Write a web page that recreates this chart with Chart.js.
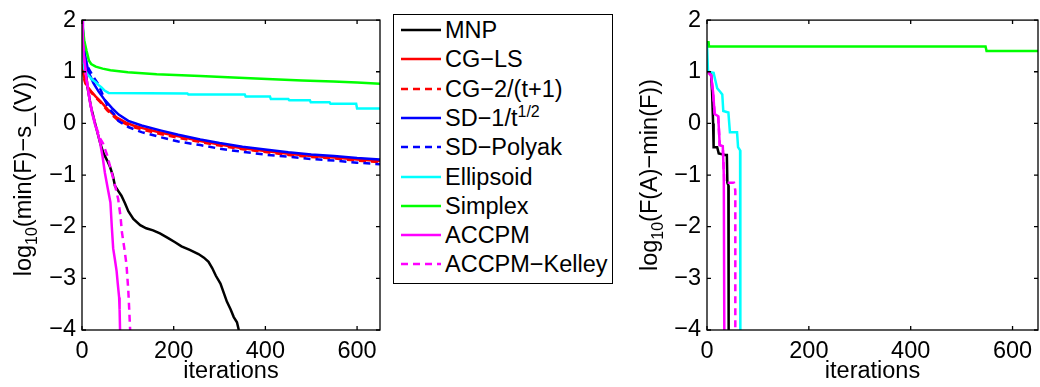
<!DOCTYPE html>
<html>
<head>
<meta charset="utf-8">
<script src="https://cdn.jsdelivr.net/npm/chart.js@4.4.1/dist/chart.umd.min.js"></script>
<style>
  html, body { margin: 0; padding: 0; background: #fff; }
  #wrap { position: relative; width: 1040px; height: 387px; overflow: hidden;
          font-family: "Liberation Sans", Arial, sans-serif; color: #000; }
  canvas { position: absolute; top: 0; }
  #left { left: 0; }
  #right { left: 625px; }
  #legend { position: absolute; left: 393px; top: 14px; width: 220px; height: 270px;
            border: 1.3px solid #000; box-sizing: border-box; background: #fff; }
  .item { position: absolute; left: 0; height: 24px; line-height: 24px; font-size: 23.5px; white-space: nowrap; }
  .item svg { position: absolute; left: 7px; top: 10px; }
  .item span { position: absolute; left: 51px; top: 0; }
  .item sup { font-size: 16px; vertical-align: 9px; line-height: 0; }
</style>
</head>
<body>
<div id="wrap">
  <canvas id="left" width="395" height="387"></canvas>
  <canvas id="right" width="415" height="387"></canvas>
  <div id="legend"></div>
</div>
<script>
// series names / styles (legend order = draw order)
const names = ['MNP', 'CG\u2212LS', 'CG\u22122/(t+1)', 'SD\u22121/t', 'SD\u2212Polyak', 'Ellipsoid', 'Simplex', 'ACCPM', 'ACCPM\u2212Kelley']
const supers = ['', '', '', '1/2', '', '', '', '', '']
const colors = ['#000000', '#ff0000', '#ff0000', '#0000ff', '#0000ff', '#00ffff', '#00ff00', '#ff00ff', '#ff00ff']
const dashed = [false, false, true, false, true, false, false, false, true]

const xTicks = [0, 200, 400, 600]
const yTicks = [-4, -3, -2, -1, 0, 1, 2]

// left panel: log10(min(F) - s_(V)) vs iterations, [iteration, value]
const leftMNP = [[0,1.9],[6,1.2],[12,0.7],[20,0.3],[30,-0.05],[40,-0.39],[47,-0.58],[55,-0.72],[61,-0.84],[67,-1.0],[72,-1.21],[80,-1.32],[86,-1.4],[94,-1.55],[101,-1.7],[112,-1.85],[127,-1.97],[140,-2.03],[155,-2.07],[170,-2.13],[188,-2.22],[203,-2.3],[217,-2.38],[235,-2.45],[254,-2.53],[266,-2.6],[276,-2.68],[284,-2.8],[292,-2.95],[302,-3.1],[310,-3.3],[316,-3.45],[324,-3.6],[331,-3.75],[338,-3.85],[342,-4.0]]
const leftCGLS = [[0,1.15],[3,0.95],[7,0.81],[13,0.7],[20,0.62],[30,0.52],[40,0.43],[55,0.28],[76,0.11],[95,0.02],[112,-0.04],[140,-0.11],[173,-0.18],[210,-0.25],[258,-0.34],[300,-0.41],[350,-0.48],[404,-0.54],[450,-0.59],[500,-0.63],[550,-0.66],[600,-0.7],[650,-0.73]]
const leftCG2 = [[0,1.1],[3,0.92],[7,0.78],[13,0.68],[20,0.6],[30,0.5],[40,0.41],[55,0.25],[76,0.08],[95,-0.01],[112,-0.07],[140,-0.14],[173,-0.21],[210,-0.28],[258,-0.36],[300,-0.43],[350,-0.5],[404,-0.56],[450,-0.61],[500,-0.65],[550,-0.68],[600,-0.72],[650,-0.75]]
const leftSD = [[0,2],[3,1.7],[7,1.3],[14,1.0],[25,0.78],[36,0.62],[50,0.45],[65,0.3],[80,0.17],[101,0.05],[130,-0.04],[173,-0.14],[210,-0.22],[258,-0.31],[300,-0.38],[350,-0.45],[404,-0.51],[450,-0.56],[500,-0.6],[550,-0.63],[600,-0.67],[650,-0.7]]
const leftPolyak = [[0,2],[3,1.6],[7,1.25],[14,1.07],[25,0.9],[36,0.75],[50,0.45],[57,0.31],[70,0.18],[79,0.05],[101,-0.07],[130,-0.17],[173,-0.27],[210,-0.35],[258,-0.42],[300,-0.49],[350,-0.55],[404,-0.61],[455,-0.65],[500,-0.69],[550,-0.72],[600,-0.76],[650,-0.79]]
const leftEllipsoid = [[0,2],[2,1.3],[5,1.05],[12,0.95],[22,0.85],[30,0.8],[35,0.75],[42,0.7],[50,0.63],[58,0.59],[230,0.58],[232,0.56],[355,0.56],[357,0.52],[410,0.52],[412,0.47],[450,0.47],[452,0.45],[497,0.45],[499,0.41],[540,0.41],[542,0.38],[598,0.38],[600,0.29],[650,0.29]]
const leftSimplex = [[0,2],[5,1.6],[10,1.4],[15,1.22],[20,1.15],[30,1.1],[45,1.06],[62,1.03],[100,0.99],[163,0.95],[258,0.92],[330,0.89],[404,0.86],[480,0.83],[548,0.81],[600,0.79],[650,0.77]]
const leftACCPM = [[0,2],[2,1.6],[4,1.3],[6.5,1.13],[10,0.85],[17,0.43],[22,0.2],[28,-0.01],[33,-0.15],[39,-0.35],[45,-0.65],[50,-0.96],[56,-1.25],[62,-1.53],[65,-2.0],[68,-2.42],[72,-2.65],[75.5,-2.86],[78,-3.1],[81,-3.37],[82,-3.6],[83,-4.0]]
const leftKelley = [[0,2],[2,1.6],[4,1.3],[6.5,1.1],[10,0.85],[17,0.45],[22,0.22],[28,0.02],[34,-0.15],[40,-0.3],[46,-0.39],[55,-0.62],[65,-0.96],[72,-1.2],[79,-1.47],[84,-1.8],[87,-2.1],[92,-2.4],[97,-2.73],[101,-3.24],[103,-3.6],[105,-4.0]]

// right panel: log10(F(A) - min(F)) vs iterations
const rightMNP = [[3,1.0],[8,0.95],[10,0.6],[12,0.0],[13,-0.46],[20,-0.46],[23,-0.58],[36,-0.61],[39,-0.61],[40,-1.15],[42,-1.2],[42.5,-4]]
const rightCGLS = []
const rightCG2 = []
const rightSD = [[0,0],[1.5,0]]
const rightPolyak = []
const rightEllipsoid = [[0,1.55],[2,1.0],[13,0.98],[16,0.85],[20,0.68],[27,0.6],[30,0.56],[32,0.24],[42,0.21],[45,-0.17],[59,-0.17],[61,-0.46],[65,-0.52],[65.5,-4]]
const rightSimplex = [[0,1.57],[3,1.57],[4,1.49],[547,1.49],[549,1.4],[650,1.4]]
const rightACCPM = [[2,1.0],[4,0.97],[8,0.93],[12,0.6],[15,0.18],[22,0.14],[25,-0.42],[31,-0.44],[33,-1.0],[34,-4]]
const rightKelley = [[2,1.0],[4,0.97],[8,0.93],[12,0.6],[15,0.18],[22,0.14],[25,-0.42],[31,-0.44],[34,-1.15],[53,-1.15],[55.6,-1.3],[55.6,-4]]

const FONT = { family: '"Liberation Sans", Arial, sans-serif', size: 23.5 }
const SUB_FONT = '16px "Liberation Sans", Arial, sans-serif'

// box, inward ticks and the TeX-ish y label
const matlabFrame = {
  id: 'matlabFrame',
  afterDatasetsDraw(chart, args, opts) {
    const { ctx, chartArea: a, scales: { x, y } } = chart
    ctx.save()
    ctx.strokeStyle = '#000'
    ctx.lineWidth = 1.3
    ctx.strokeRect(a.left, a.top, a.right - a.left, a.bottom - a.top)
    ctx.beginPath()
    x.ticks.forEach(t => {
      const px = x.getPixelForValue(t.value)
      ctx.moveTo(px, a.bottom); ctx.lineTo(px, a.bottom - 4)
      ctx.moveTo(px, a.top); ctx.lineTo(px, a.top + 4)
    })
    y.ticks.forEach(t => {
      const py = y.getPixelForValue(t.value)
      ctx.moveTo(a.left, py); ctx.lineTo(a.left + 4, py)
      ctx.moveTo(a.right, py); ctx.lineTo(a.right - 4, py)
    })
    ctx.stroke()

    // rotated y label with subscript
    const main = FONT.size + 'px ' + FONT.family
    const parts = opts.title
    let w = 0
    parts.forEach(p => { ctx.font = p.sub ? SUB_FONT : main; w += ctx.measureText(p.t).width })
    ctx.translate(opts.titleX, (a.top + a.bottom) / 2)
    ctx.rotate(-Math.PI / 2)
    ctx.fillStyle = '#000'
    ctx.textBaseline = 'alphabetic'
    ctx.textAlign = 'left'
    let cx = -w / 2
    parts.forEach(p => {
      ctx.font = p.sub ? SUB_FONT : main
      ctx.fillText(p.t, cx, p.sub ? 6 : 0)
      cx += ctx.measureText(p.t).width
    })
    ctx.restore()
  }
}

function buildPanel(canvasId, seriesList, title, titleX) {
  const datasets = seriesList.map((pts, i) => ({
    label: names[i],
    data: pts.map(([x, y]) => ({ x, y })),
    borderColor: colors[i],
    backgroundColor: colors[i],
    borderDash: dashed[i] ? [7, 5] : [],
    borderWidth: 2.5,
    pointRadius: 0,
    fill: false,
    tension: 0,
    order: seriesList.length - i,
  }))

  return new Chart(document.getElementById(canvasId), {
    type: 'line',
    data: { datasets },
    options: {
      responsive: false,
      animation: false,
      events: [],
      layout: { padding: { left: 0, top: 14, right: canvasId === 'left' ? 15 : 2, bottom: 0 } },
      plugins: {
        legend: { display: false },
        tooltip: { enabled: false },
        matlabFrame: { title, titleX },
      },
      scales: {
        x: {
          type: 'linear', min: 0, max: 650,
          afterBuildTicks: s => { s.ticks = xTicks.map(v => ({ value: v })) },
          afterFit: s => { s.height = 57 },
          grid: { display: false, drawTicks: false },
          border: { display: false },
          ticks: { font: FONT, color: '#000', padding: 7, maxRotation: 0, autoSkip: false },
          title: { display: true, text: 'iterations', font: FONT, color: '#000', padding: { top: 0, bottom: 1 } },
        },
        y: {
          type: 'linear', min: -4, max: 2,
          afterBuildTicks: s => { s.ticks = yTicks.map(v => ({ value: v })) },
          afterFit: s => { s.width = 82 },
          grid: { display: false, drawTicks: false },
          border: { display: false },
          ticks: { font: FONT, color: '#000', padding: 6, callback: v => (v < 0 ? '\u2212' + Math.abs(v) : '' + v) },
        },
      },
    },
    plugins: [matlabFrame],
  })
}

buildPanel('left',
  [leftMNP, leftCGLS, leftCG2, leftSD, leftPolyak, leftEllipsoid, leftSimplex, leftACCPM, leftKelley],
  [{ t: 'log' }, { t: '10', sub: true }, { t: '(min(F)\u2212s_(V))' }], 31)

buildPanel('right',
  [rightMNP, rightCGLS, rightCG2, rightSD, rightPolyak, rightEllipsoid, rightSimplex, rightACCPM, rightKelley],
  [{ t: 'log' }, { t: '10', sub: true }, { t: '(F(A)\u2212min(F))' }], 32)

// legend box
const legend = document.getElementById('legend')
names.forEach((n, i) => {
  const item = document.createElement('div')
  item.className = 'item'
  item.style.top = (3 + 29.3 * i) + 'px'
  const dash = dashed[i] ? ' stroke-dasharray="7 5"' : ''
  item.innerHTML = '<svg width="42" height="4"><line x1="0" y1="2" x2="40" y2="2" stroke="' + colors[i] + '" stroke-width="2.5"' + dash + '/></svg>' +
    '<span>' + n + (supers[i] ? '<sup>' + supers[i] + '</sup>' : '') + '</span>'
  legend.appendChild(item)
})
</script>
</body>
</html>
